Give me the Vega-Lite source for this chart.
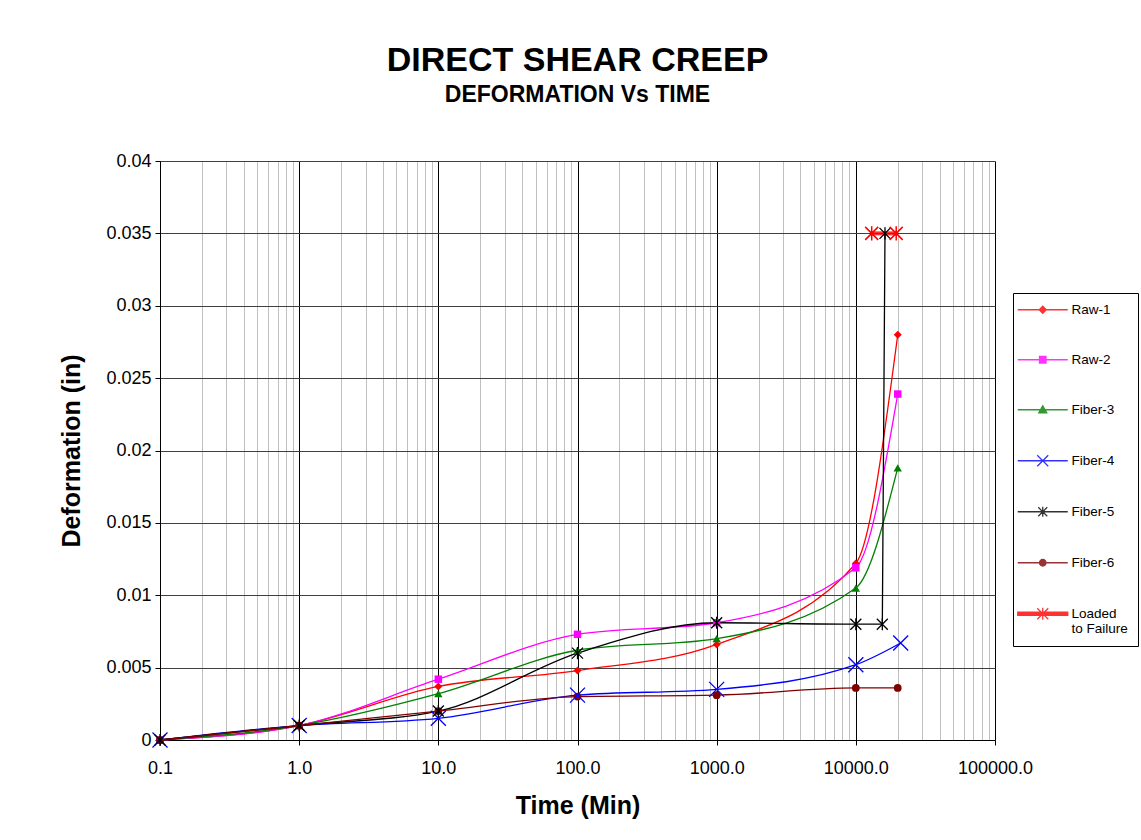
{
  "$schema": "https://vega.github.io/schema/vega-lite/v6.json",
  "width": 835,
  "height": 579,
  "autosize": {"type": "none"},
  "padding": {"left": 160, "top": 161, "right": 146, "bottom": 100},
  "background": "white",
  "title": {
    "text": "DIRECT SHEAR CREEP",
    "subtitle": "DEFORMATION Vs TIME",
    "anchor": "middle",
    "font": "Liberation Sans",
    "fontSize": 34,
    "fontWeight": "bold",
    "color": "black",
    "subtitleFont": "Liberation Sans",
    "subtitleFontSize": 23,
    "subtitleFontWeight": "bold",
    "subtitleColor": "black",
    "subtitlePadding": 6,
    "offset": 45
  },
  "config": {
    "view": {"stroke": null},
    "axis": {"labelFont": "Liberation Sans", "titleFont": "Liberation Sans", "labelColor": "black", "titleColor": "black"}
  },
  "data": {
    "values": [
      {"series": "Raw-1", "i": 1, "t": 0.1, "d": 0},
      {"series": "Raw-1", "i": 2, "t": 1, "d": 0.001},
      {"series": "Raw-1", "i": 3, "t": 10, "d": 0.0037},
      {"series": "Raw-1", "i": 4, "t": 100, "d": 0.0048},
      {"series": "Raw-1", "i": 5, "t": 1000, "d": 0.0066},
      {"series": "Raw-1", "i": 6, "t": 10000, "d": 0.0122},
      {"series": "Raw-1", "i": 7, "t": 20000, "d": 0.028},
      {"series": "Raw-2", "i": 1, "t": 0.1, "d": 0},
      {"series": "Raw-2", "i": 2, "t": 1, "d": 0.001},
      {"series": "Raw-2", "i": 3, "t": 10, "d": 0.0042},
      {"series": "Raw-2", "i": 4, "t": 100, "d": 0.0073},
      {"series": "Raw-2", "i": 5, "t": 1000, "d": 0.0081},
      {"series": "Raw-2", "i": 6, "t": 10000, "d": 0.0119},
      {"series": "Raw-2", "i": 7, "t": 20000, "d": 0.0239},
      {"series": "Fiber-3", "i": 1, "t": 0.1, "d": 0},
      {"series": "Fiber-3", "i": 2, "t": 1, "d": 0.001},
      {"series": "Fiber-3", "i": 3, "t": 10, "d": 0.0032},
      {"series": "Fiber-3", "i": 4, "t": 100, "d": 0.0062},
      {"series": "Fiber-3", "i": 5, "t": 1000, "d": 0.007},
      {"series": "Fiber-3", "i": 6, "t": 10000, "d": 0.0105},
      {"series": "Fiber-3", "i": 7, "t": 20000, "d": 0.0188},
      {"series": "Fiber-4", "i": 1, "t": 0.1, "d": 0},
      {"series": "Fiber-4", "i": 2, "t": 1, "d": 0.001},
      {"series": "Fiber-4", "i": 3, "t": 10, "d": 0.0015},
      {"series": "Fiber-4", "i": 4, "t": 100, "d": 0.0031},
      {"series": "Fiber-4", "i": 5, "t": 1000, "d": 0.0035},
      {"series": "Fiber-4", "i": 6, "t": 10000, "d": 0.0052},
      {"series": "Fiber-4", "i": 7, "t": 21000, "d": 0.0067},
      {"series": "Fiber-5", "i": 1, "t": 0.1, "d": 0},
      {"series": "Fiber-5", "i": 2, "t": 1, "d": 0.001},
      {"series": "Fiber-5", "i": 3, "t": 10, "d": 0.002},
      {"series": "Fiber-5", "i": 4, "t": 100, "d": 0.006},
      {"series": "Fiber-5", "i": 5, "t": 1000, "d": 0.0081},
      {"series": "Fiber-5", "i": 6, "t": 10000, "d": 0.008},
      {"series": "Fiber-5", "i": 7, "t": 15500, "d": 0.008},
      {"series": "Fiber-5", "i": 8, "t": 16200, "d": 0.035},
      {"series": "Fiber-6", "i": 1, "t": 0.1, "d": 0},
      {"series": "Fiber-6", "i": 2, "t": 1, "d": 0.001},
      {"series": "Fiber-6", "i": 3, "t": 10, "d": 0.002},
      {"series": "Fiber-6", "i": 4, "t": 100, "d": 0.003},
      {"series": "Fiber-6", "i": 5, "t": 1000, "d": 0.0031},
      {"series": "Fiber-6", "i": 6, "t": 10000, "d": 0.0036},
      {"series": "Fiber-6", "i": 7, "t": 20000, "d": 0.0036},
      {"series": "Loaded to Failure", "i": 1, "t": 13000, "d": 0.035},
      {"series": "Loaded to Failure", "i": 2, "t": 19500, "d": 0.035}
    ]
  },
  "resolve": {"axis": {"x": "independent"}},
  "layer": [
    {
      "transform": [{"filter": "datum.series != 'Loaded to Failure'"}],
      "mark": {"type": "line", "interpolate": "monotone", "strokeWidth": 1.3},
      "encoding": {
        "x": {
          "field": "t", "type": "quantitative",
          "scale": {"type": "log", "domain": [0.1, 100000], "nice": false},
          "axis": {
            "orient": "bottom",
            "values": [0.2,0.3,0.4,0.5,0.6,0.7,0.8,0.9,2,3,4,5,6,7,8,9,20,30,40,50,60,70,80,90,200,300,400,500,600,700,800,900,2000,3000,4000,5000,6000,7000,8000,9000,20000,30000,40000,50000,60000,70000,80000,90000],
            "grid": true, "gridColor": "#c0c0c0", "gridWidth": 1,
            "labels": false, "ticks": false, "domain": false, "title": null
          }
        },
        "y": {
          "field": "d", "type": "quantitative",
          "scale": {"domain": [0, 0.04], "nice": false},
          "axis": {
            "values": [0, 0.005, 0.01, 0.015, 0.02, 0.025, 0.03, 0.035, 0.04],
            "format": "~g",
            "grid": true, "gridColor": "#404040", "gridWidth": 1,
            "tickSize": 5, "tickColor": "black", "domainColor": "black",
            "labelFontSize": 18, "labelPadding": 4,
            "title": "Deformation (in)", "titleFontSize": 25, "titleFontWeight": "bold", "titlePadding": 21
          }
        },
        "color": {
          "field": "series", "type": "nominal",
          "scale": {
            "domain": ["Raw-1", "Raw-2", "Fiber-3", "Fiber-4", "Fiber-5", "Fiber-6", "Loaded to Failure"],
            "range": ["#ff0000", "#ff00ff", "#008000", "#0000ff", "#000000", "#800000", "#ff0000"]
          },
          "legend": {
            "orient": "none", "legendX": 853, "legendY": 132,
            "title": null,
            "strokeColor": "black", "fillColor": "white",
            "padding": 10, "rowPadding": 35,
            "symbolSize": 100, "symbolOffset": 13, "labelOffset": 22,
            "symbolOpacity": 1, "symbolStrokeWidth": 1.3,
            "labelFont": "Liberation Sans", "labelFontSize": 13.5, "labelColor": "black", "labelLimit": 200,
            "labelExpr": "datum.label == 'Loaded to Failure' ? ['Loaded', 'to Failure'] : datum.label"
          }
        },
        "order": {"field": "i", "type": "quantitative"}
      }
    },
    {
      "transform": [{"filter": "datum.series == 'Loaded to Failure'"}],
      "mark": {"type": "line", "strokeWidth": 4, "opacity": 0.8},
      "encoding": {
        "x": {
          "field": "t", "type": "quantitative",
          "scale": {"type": "log", "domain": [0.1, 100000], "nice": false},
          "axis": {
            "orient": "bottom",
            "values": [0.1, 1, 10, 100, 1000, 10000, 100000],
            "format": ".1f",
            "grid": true, "gridColor": "black", "gridWidth": 1,
            "tickSize": 5, "tickColor": "black", "domainColor": "black",
            "labelFontSize": 18, "labelPadding": 14, "labelFlush": false, "labelOverlap": false,
            "title": "Time (Min)", "titleFontSize": 25, "titleFontWeight": "bold", "titlePadding": 16
          }
        },
        "y": {"field": "d", "type": "quantitative"},
        "color": {"field": "series", "type": "nominal"},
        "order": {"field": "i", "type": "quantitative"}
      }
    },
    {
      "transform": [{"filter": "datum.series == 'Raw-1'"}],
      "mark": {"type": "point", "filled": true, "opacity": 1, "shape": "diamond", "size": 64},
      "encoding": {
        "x": {"field": "t", "type": "quantitative", "axis": null},
        "y": {"field": "d", "type": "quantitative"},
        "color": {"field": "series", "type": "nominal"}
      }
    },
    {
      "transform": [{"filter": "datum.series == 'Raw-2'"}],
      "mark": {"type": "point", "filled": true, "opacity": 1, "shape": "square", "size": 56},
      "encoding": {
        "x": {"field": "t", "type": "quantitative", "axis": null},
        "y": {"field": "d", "type": "quantitative"},
        "color": {"field": "series", "type": "nominal"}
      }
    },
    {
      "transform": [{"filter": "datum.series == 'Fiber-3'"}],
      "mark": {"type": "point", "filled": true, "opacity": 1, "shape": "triangle-up", "size": 70},
      "encoding": {
        "x": {"field": "t", "type": "quantitative", "axis": null},
        "y": {"field": "d", "type": "quantitative"},
        "color": {"field": "series", "type": "nominal"}
      }
    },
    {
      "transform": [{"filter": "datum.series == 'Fiber-6'"}],
      "mark": {"type": "point", "filled": true, "opacity": 1, "shape": "circle", "size": 60},
      "encoding": {
        "x": {"field": "t", "type": "quantitative", "axis": null},
        "y": {"field": "d", "type": "quantitative"},
        "color": {"field": "series", "type": "nominal"}
      }
    },
    {
      "transform": [{"filter": "datum.series == 'Fiber-4'"}],
      "mark": {"type": "point", "filled": false, "opacity": 1, "shape": "M-1,-1L1,1M-1,1L1,-1", "size": 225, "strokeWidth": 1.3},
      "encoding": {
        "x": {"field": "t", "type": "quantitative", "axis": null},
        "y": {"field": "d", "type": "quantitative"},
        "color": {"field": "series", "type": "nominal"}
      }
    },
    {
      "transform": [{"filter": "datum.series == 'Fiber-5'"}],
      "mark": {"type": "point", "filled": false, "opacity": 1, "shape": "M-1,-1L1,1M-1,1L1,-1M0,-1.1L0,1.1", "size": 121, "strokeWidth": 1.3},
      "encoding": {
        "x": {"field": "t", "type": "quantitative", "axis": null},
        "y": {"field": "d", "type": "quantitative"},
        "color": {"field": "series", "type": "nominal"}
      }
    },
    {
      "transform": [{"filter": "datum.series == 'Loaded to Failure'"}],
      "mark": {"type": "point", "filled": false, "opacity": 1, "shape": "M-1,-1L1,1M-1,1L1,-1M0,-1.1L0,1.1", "size": 169, "strokeWidth": 1.5},
      "encoding": {
        "x": {"field": "t", "type": "quantitative", "axis": null},
        "y": {"field": "d", "type": "quantitative"},
        "color": {"field": "series", "type": "nominal"}
      }
    },
    {
      "transform": [{"filter": "false"}],
      "mark": {"type": "point", "filled": true, "opacity": 1},
      "encoding": {
        "x": {"field": "t", "type": "quantitative", "axis": null},
        "y": {"field": "d", "type": "quantitative"},
        "color": {"field": "series", "type": "nominal"},
        "stroke": {
          "field": "series", "type": "nominal",
          "scale": {
            "domain": ["Raw-1", "Raw-2", "Fiber-3", "Fiber-4", "Fiber-5", "Fiber-6", "Loaded to Failure"],
            "range": ["#ff0000", "#ff00ff", "#008000", "#0000ff", "#000000", "#800000", "#ff0000"]
          }
        },
        "shape": {
          "field": "series", "type": "nominal",
          "scale": {
            "domain": ["Raw-1", "Raw-2", "Fiber-3", "Fiber-4", "Fiber-5", "Fiber-6", "Loaded to Failure"],
            "range": [
              "M-5,0L5,0M0,-0.7L0.7,0L0,0.7L-0.7,0Z",
              "M-5,0L5,0M-0.65,-0.65L0.65,-0.65L0.65,0.65L-0.65,0.65Z",
              "M-5,0L5,0M0,-0.8L0.8,0.6L-0.8,0.6Z",
              "M-5,0L5,0M-1.1,-1.1L1.1,1.1M-1.1,1.1L1.1,-1.1",
              "M-5,0L5,0M-0.9,-0.9L0.9,0.9M-0.9,0.9L0.9,-0.9M0,-1L0,1",
              "M-5,0L5,0M0.65,0A0.65,0.65,0,1,1,-0.65,0A0.65,0.65,0,1,1,0.65,0Z",
              "M-5,-0.3L5,-0.3L5,0.3L-5,0.3ZM-1.1,-1.1L1.1,1.1M-1.1,1.1L1.1,-1.1M0,-1.2L0,1.2"
            ]
          }
        }
      }
    }
  ]
}
